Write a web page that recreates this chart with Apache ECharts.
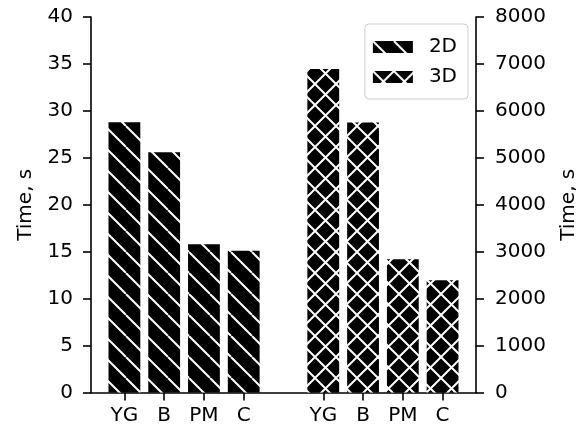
<!DOCTYPE html>
<html>
<head>
<meta charset="utf-8">
<script src="https://cdn.jsdelivr.net/npm/echarts@6/dist/echarts.min.js"></script>
<style>html,body{margin:0;padding:0;background:#fff}#c{width:579px;height:430px}</style>
</head>
<body>
<div id="c"></div>
<script>
const categories = ['YG', 'B', 'PM', 'C'];
const positions2D = [0, 1, 2, 3];
const positions3D = [5, 6, 7, 8];
const values2D = [28.8, 25.6, 15.8, 15.1];
const values3D = [6890, 5750, 2840, 2390];
const leftTicks = [0, 5, 10, 15, 20, 25, 30, 35, 40];
const rightTicks = [0, 1000, 2000, 3000, 4000, 5000, 6000, 7000, 8000];

function hatch(cross) {
  const s = 21;
  const cv = document.createElement('canvas');
  cv.width = s; cv.height = s;
  const g = cv.getContext('2d');
  g.fillStyle = '#000';
  g.fillRect(0, 0, s, s);
  g.strokeStyle = '#fff';
  g.lineWidth = 2;
  g.beginPath();
  for (let k = -1; k <= 1; k++) {
    g.moveTo(k * s, 0); g.lineTo(k * s + s, s);
    if (cross) { g.moveTo(k * s, s); g.lineTo(k * s + s, 0); }
  }
  g.stroke();
  return cv;
}

const labelMap = {};
positions2D.forEach((p, i) => labelMap[p] = categories[i]);
positions3D.forEach((p, i) => labelMap[p] = categories[i]);
const tickPositions = positions2D.concat(positions3D);

const font = 'DejaVu Sans';
const fs = 20;
const chart = echarts.init(document.getElementById('c'), null, {renderer: 'canvas'});
chart.setOption({
  animation: false,
  textStyle: {fontFamily: font, color: '#000'},
  grid: {left: 91, right: 103, top: 17, bottom: 37.5, containLabel: false, outerBoundsMode: 'none'},
  legend: {
    orient: 'vertical',
    right: 111,
    top: 24,
    data: ['2D', '3D'],
    icon: 'rect',
    itemWidth: 40,
    itemHeight: 12,
    itemGap: 10,
    padding: [13, 11, 12, 8],
    borderColor: '#cccccc',
    borderWidth: 1,
    borderRadius: 4,
    backgroundColor: 'rgba(255,255,255,0.8)',
    textStyle: {fontFamily: font, fontSize: fs, color: '#000', padding: [0, 0, 0, 11], lineHeight: 20}
  },
  xAxis: {
    type: 'value',
    min: -0.84,
    max: 8.84,
    splitLine: {show: false},
    axisLine: {show: true, onZero: false, lineStyle: {color: '#000', width: 1.6}},
    axisTick: {show: true, length: 8, customValues: tickPositions, lineStyle: {color: '#000', width: 1.6}},
    axisLabel: {customValues: tickPositions, formatter: v => labelMap[v] || '', fontFamily: font, fontSize: fs, color: '#000', margin: 13},
  },
  yAxis: [
    {
      type: 'value', min: 0, max: 40, interval: 5, position: 'left',
      name: 'Time, s', nameLocation: 'middle', nameGap: 55,
      nameTextStyle: {fontFamily: font, fontSize: fs, color: '#000'},
      splitLine: {show: false},
      axisLine: {show: true, onZero: false, lineStyle: {color: '#000', width: 1.6}},
      axisTick: {show: true, length: 8, customValues: leftTicks, lineStyle: {color: '#000', width: 1.6}},
      axisLabel: {fontFamily: font, fontSize: fs, color: '#000', margin: 18, customValues: leftTicks, formatter: v => String(v)}
    },
    {
      type: 'value', min: 0, max: 8000, interval: 1000, position: 'right',
      name: 'Time, s', nameLocation: 'middle', nameGap: 83,
      nameTextStyle: {fontFamily: font, fontSize: fs, color: '#000'},
      splitLine: {show: false},
      axisLine: {show: true, onZero: false, lineStyle: {color: '#000', width: 1.6}},
      axisTick: {show: true, length: 8, customValues: rightTicks, lineStyle: {color: '#000', width: 1.6}},
      axisLabel: {fontFamily: font, fontSize: fs, color: '#000', margin: 19, customValues: rightTicks, formatter: v => String(v)}
    }
  ],
  series: [
    {
      name: '2D', type: 'bar', yAxisIndex: 0,
      barWidth: 31.8, barGap: '-100%',
      itemStyle: {color: {image: hatch(false), repeat: 'repeat'}},
      data: positions2D.map((p, i) => [p, values2D[i]])
    },
    {
      name: '3D', type: 'bar', yAxisIndex: 1,
      barWidth: 31.8, barGap: '-100%',
      itemStyle: {color: {image: hatch(true), repeat: 'repeat'}},
      data: positions3D.map((p, i) => [p, values3D[i]])
    }
  ]
});
</script>
</body>
</html>
